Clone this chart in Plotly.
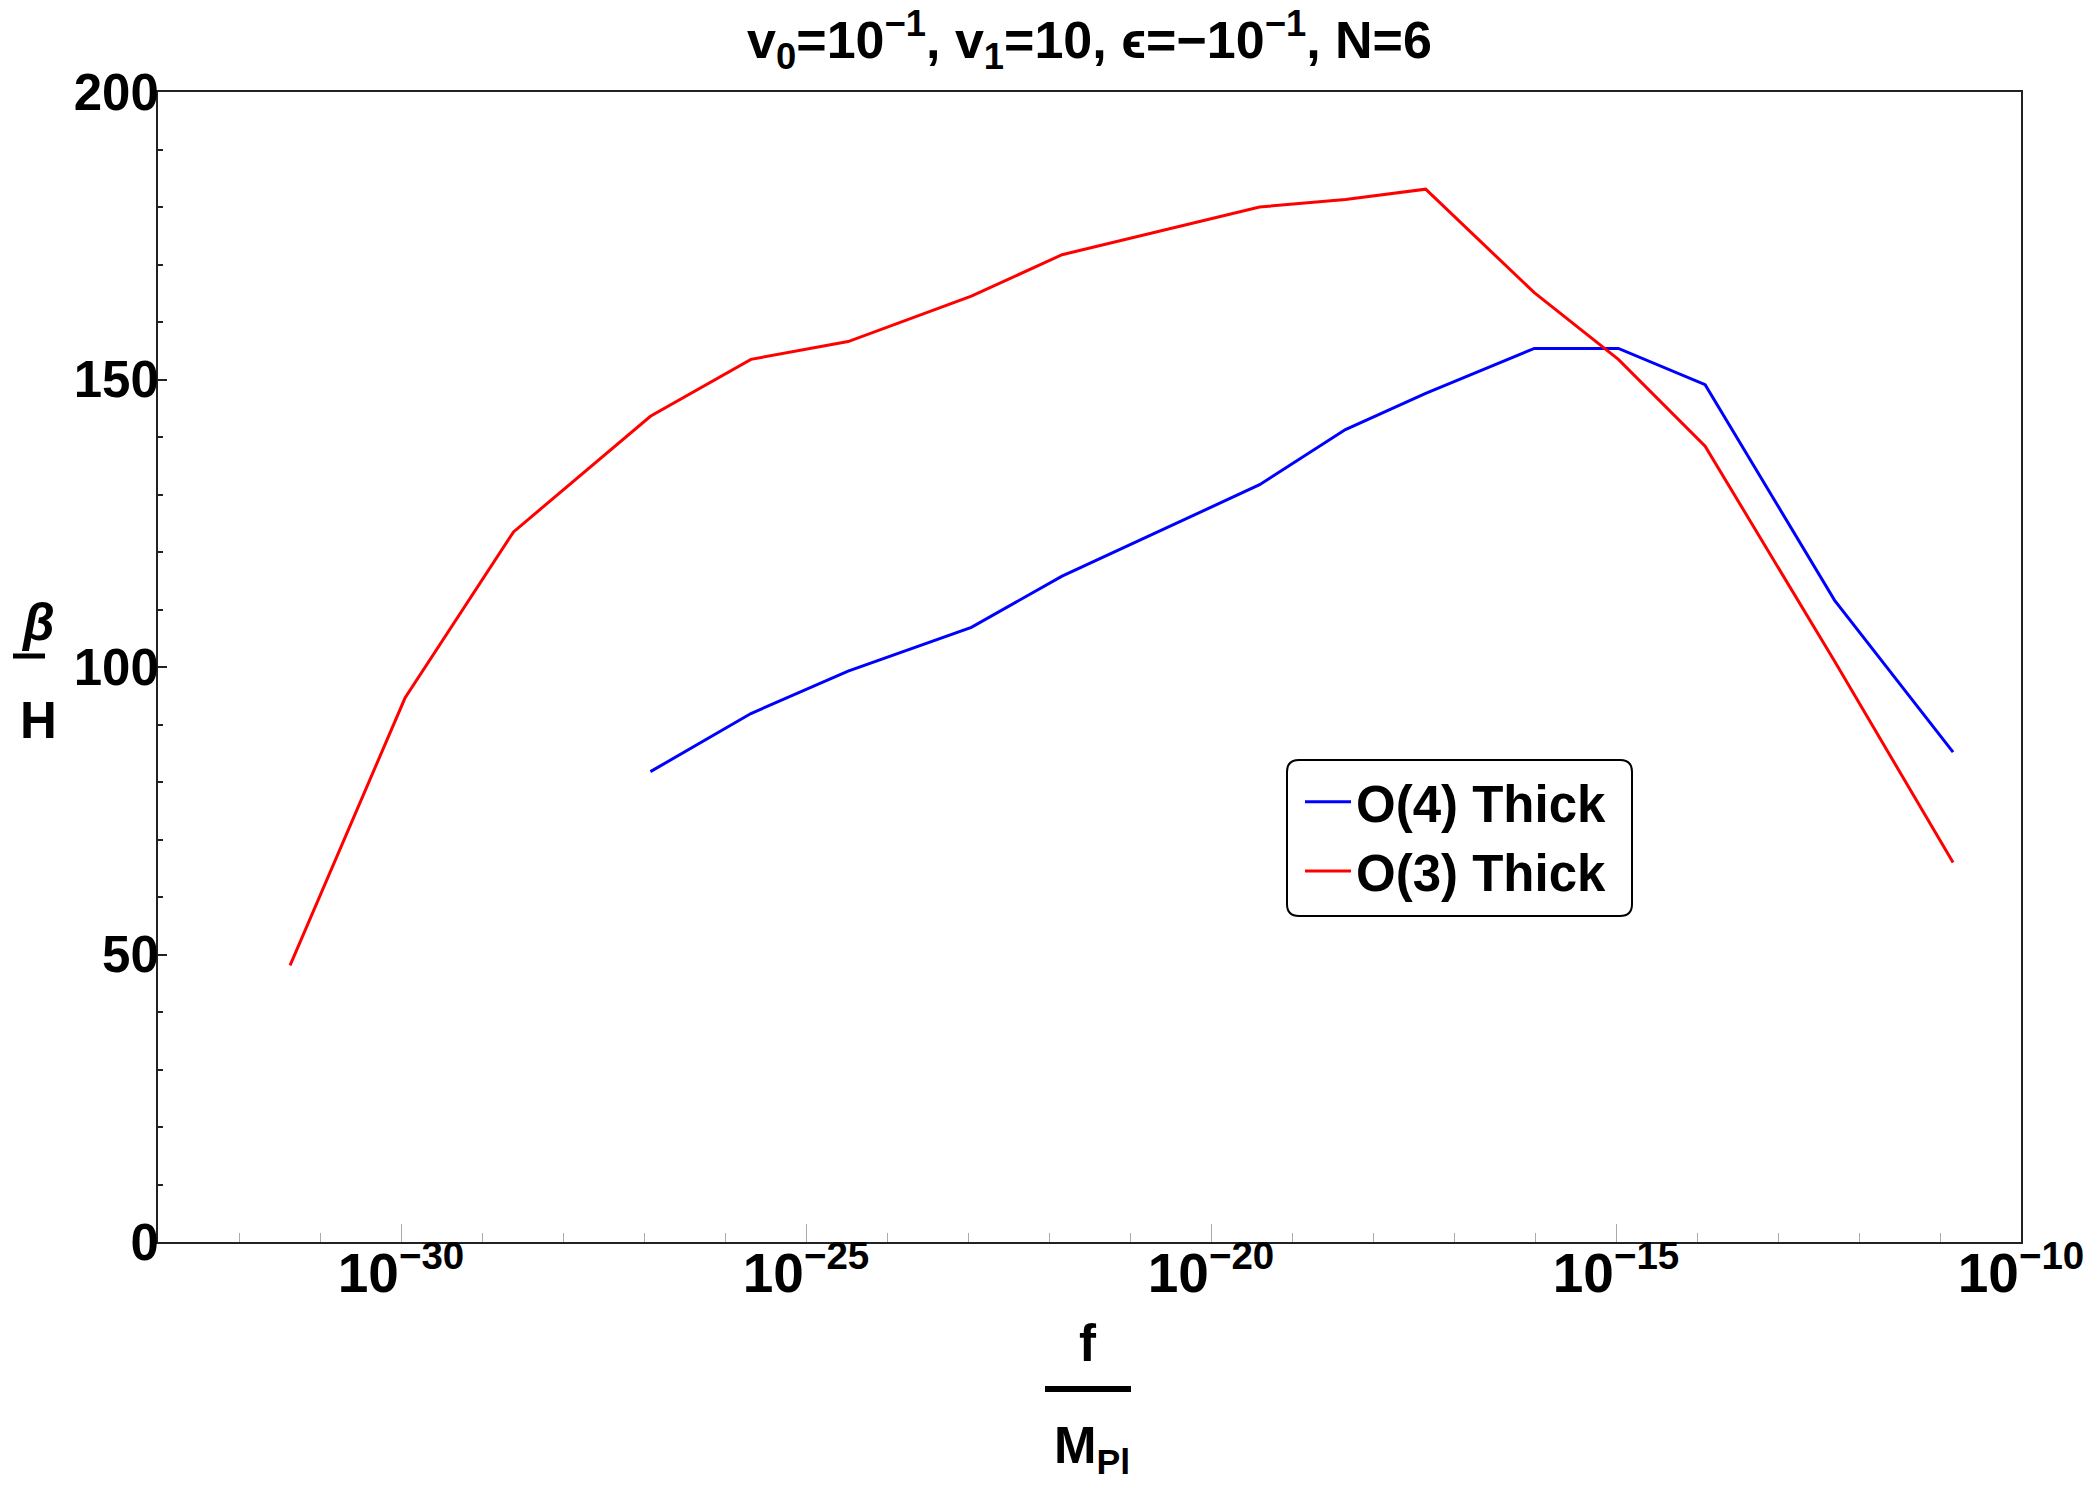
import plotly.graph_objects as go

# ---- data ----
f_o4 = [1.2e-27, 2.09e-26, 3.31e-25, 1.1e-23, 1.45e-22, 3.98e-20, 4.57e-19,
        4.47e-18, 9.8e-17, 1.07e-15, 1.26e-14, 5.0e-13, 1.45e-11]
beta_o4 = [81.8, 91.9, 99.3, 106.9, 115.8, 131.7, 141.3,
           147.6, 155.4, 155.4, 149.1, 111.6, 85.2]

f_o3 = [4.27e-32, 1.12e-30, 2.45e-29, 1.2e-27, 2.09e-26, 3.31e-25, 1.1e-23, 1.45e-22,
        3.98e-20, 4.57e-19, 4.47e-18, 9.8e-17, 1.07e-15, 1.26e-14, 5.0e-13, 1.45e-11]
beta_o3 = [48.1, 94.6, 123.5, 143.6, 153.5, 156.6, 164.5, 171.7,
           180.0, 181.3, 183.1, 165.1, 153.5, 138.4, 101.0, 66.0]

series_names = ["O(4) Thick", "O(3) Thick"]
title_text = "v<sub>0</sub>=10<sup>\u22121</sup>, v<sub>1</sub>=10, \u03f5=\u221210<sup>\u22121</sup>, N=6"

FONT = "Liberation Sans, Arial, sans-serif"
FS = 51
FSX = 44
W, H = 2084, 1486
ML, MR, MT, MB = 158, 63, 92, 244
PW, PH = W - ML - MR, H - MT - MB


def px2paper(px, py):
    return (px - ML) / PW, (H - MB - py) / PH


fig = go.Figure()
fig.add_trace(go.Scatter(x=f_o4, y=beta_o4, mode="lines", name=series_names[0],
                         line=dict(color="#0000ff", width=3)))
fig.add_trace(go.Scatter(x=f_o3, y=beta_o3, mode="lines", name=series_names[1],
                         line=dict(color="#ff0000", width=3)))

fig.update_layout(
    width=W, height=H,
    margin=dict(l=ML, r=MR, t=MT, b=MB, autoexpand=False),
    paper_bgcolor="white", plot_bgcolor="white",
    font=dict(family=FONT, color="black"),
    title=dict(text=title_text, x=(ML + PW / 2) / W, xanchor="center",
               y=1 - 40 / H, yanchor="middle",
               font=dict(size=52, family=FONT, weight="bold", color="black")),
    showlegend=True,
    legend=dict(x=px2paper(1300, 0)[0], y=px2paper(0, 762)[1], xanchor="left", yanchor="top",
                bgcolor="rgba(0,0,0,0)", borderwidth=0,
                font=dict(size=FS, family=FONT, weight="bold", color="black"),
                itemwidth=46, tracegroupgap=0),
)

fig.update_xaxes(
    type="log", range=[-33, -10], automargin=False,
    dtick=5, tick0=0, exponentformat="power", showexponent="all",
    ticklabeloverflow="allow",
    ticks="inside", ticklen=18, tickwidth=1, tickcolor="#aaaaaa",
    ticklabelstandoff=-16,
    minor=dict(dtick=1, ticks="inside", ticklen=9, tickcolor="#aaaaaa", tickwidth=1, showgrid=False),
    showline=True, linecolor="#222222", linewidth=2, mirror=True,
    showgrid=False, zeroline=False,
    tickfont=dict(size=FSX, family=FONT, weight="bold", color="black"),
)
fig.update_yaxes(
    range=[0, 200], dtick=50, tick0=0, automargin=False,
    ticks="inside", ticklen=9, tickwidth=2, tickcolor="#222222",
    ticklabelstandoff=-13,
    minor=dict(dtick=10, ticks="inside", ticklen=5, tickcolor="#222222", tickwidth=1.5, showgrid=False),
    showline=True, linecolor="#222222", linewidth=2, mirror=True,
    showgrid=False, zeroline=False,
    tickfont=dict(size=FS, family=FONT, weight="bold", color="black"),
)

# rounded legend frame
x0, y1 = px2paper(1287, 760)
x1, y0 = px2paper(1632, 916)
rx, ry = 12 / PW, 12 / PH
path = (f"M {x0+rx},{y1} L {x1-rx},{y1} Q {x1},{y1} {x1},{y1-ry} "
        f"L {x1},{y0+ry} Q {x1},{y0} {x1-rx},{y0} L {x0+rx},{y0} "
        f"Q {x0},{y0} {x0},{y0+ry} L {x0},{y1-ry} Q {x0},{y1} {x0+rx},{y1} Z")
fig.add_shape(type="path", path=path, xref="paper", yref="paper",
              line=dict(color="black", width=2), fillcolor="rgba(0,0,0,0)", layer="above")

# y axis title: beta over H
bx, by = px2paper(38, 622)
fig.add_annotation(text="<i>\u03b2</i>", x=bx, y=by, xref="paper", yref="paper",
                   showarrow=False, xanchor="center", yanchor="middle",
                   font=dict(size=FS, family=FONT, weight="bold"))
lx0, ly = px2paper(13, 656)
lx1, _ = px2paper(45, 656)
fig.add_shape(type="line", x0=lx0, x1=lx1, y0=ly, y1=ly, xref="paper", yref="paper",
              line=dict(color="black", width=5))
hx, hy = px2paper(38, 720)
fig.add_annotation(text="H", x=hx, y=hy, xref="paper", yref="paper",
                   showarrow=False, xanchor="center", yanchor="middle",
                   font=dict(size=FS, family=FONT, weight="bold"))

# x axis title: f over M_Pl
fx, fy = px2paper(1088, 1343)
fig.add_annotation(text="f", x=fx, y=fy, xref="paper", yref="paper",
                   showarrow=False, xanchor="center", yanchor="middle",
                   font=dict(size=FS, family=FONT, weight="bold"))
mx0, my = px2paper(1045, 1389)
mx1, _ = px2paper(1131, 1389)
fig.add_shape(type="line", x0=mx0, x1=mx1, y0=my, y1=my, xref="paper", yref="paper",
              line=dict(color="black", width=6))
mpx, mpy = px2paper(1092, 1449)
fig.add_annotation(text="M<sub>Pl</sub>", x=mpx, y=mpy, xref="paper", yref="paper",
                   showarrow=False, xanchor="center", yanchor="middle",
                   font=dict(size=FS, family=FONT, weight="bold"))

fig.write_html("out.html")
